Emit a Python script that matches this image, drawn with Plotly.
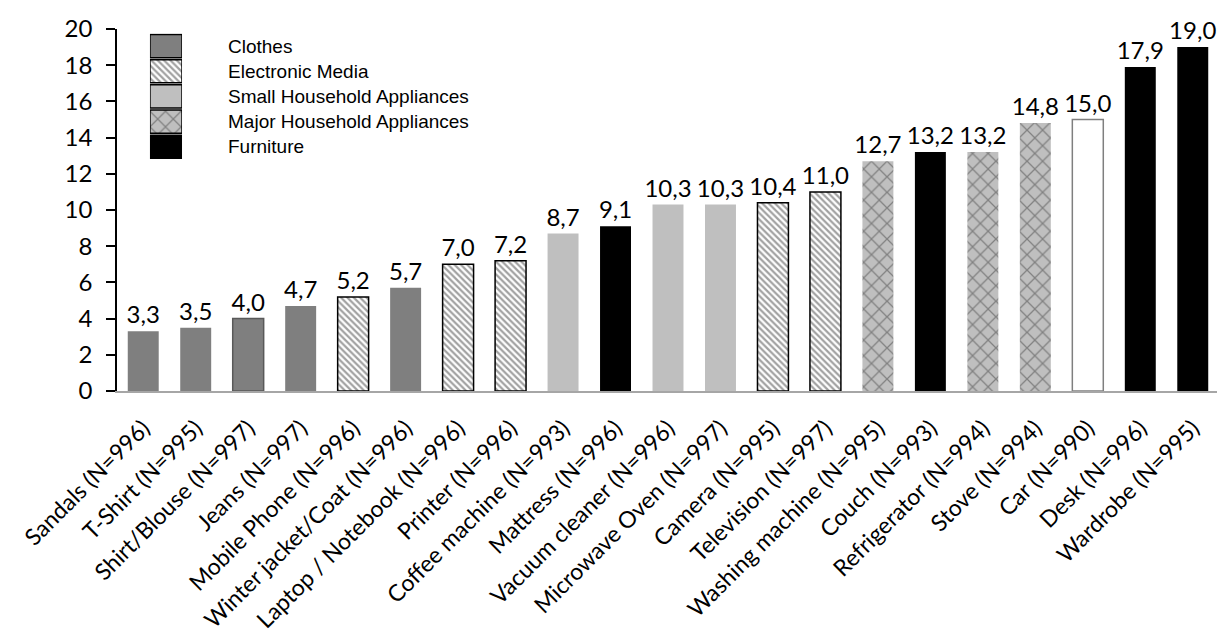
import plotly.graph_objects as go

items = ["Sandals (N=996)", "T-Shirt (N=995)", "Shirt/Blouse (N=997)", "Jeans (N=997)",
         "Mobile Phone (N=996)", "Winter jacket/Coat (N=996)", "Laptop / Notebook (N=996)",
         "Printer (N=996)", "Coffee machine (N=993)", "Mattress (N=996)",
         "Vacuum cleaner (N=996)", "Microwave Oven (N=997)", "Camera (N=995)",
         "Television (N=997)", "Washing machine (N=995)", "Couch (N=993)",
         "Refrigerator (N=994)", "Stove (N=994)", "Car (N=990)", "Desk (N=996)",
         "Wardrobe (N=995)"]
values = [3.3, 3.5, 4.0, 4.7, 5.2, 5.7, 7.0, 7.2, 8.7, 9.1, 10.3, 10.3, 10.4, 11.0,
          12.7, 13.2, 13.2, 14.8, 15.0, 17.9, 19.0]
groups = ["Clothes", "Clothes", "Clothes", "Clothes", "Electronic Media", "Clothes",
          "Electronic Media", "Electronic Media", "Small Household Appliances", "Furniture",
          "Small Household Appliances", "Small Household Appliances", "Electronic Media",
          "Electronic Media", "Major Household Appliances", "Furniture",
          "Major Household Appliances", "Major Household Appliances", "Other", "Furniture",
          "Furniture"]
legend_groups = ["Clothes", "Electronic Media", "Small Household Appliances",
                 "Major Household Appliances", "Furniture"]
y_ticks = [0, 2, 4, 6, 8, 10, 12, 14, 16, 18, 20]

style = {
    "Clothes": dict(color="#7f7f7f", shape="", fg="#000000", line="#7f7f7f", lw=0),
    "Electronic Media": dict(color="#ffffff", shape="\\", fg="#000000", line="#000000", lw=1.5),
    "Small Household Appliances": dict(color="#bfbfbf", shape="", fg="#000000", line="#bfbfbf", lw=0),
    "Major Household Appliances": dict(color="#bfbfbf", shape="x", fg="#1a1a1a", line="#bfbfbf", lw=0),
    "Furniture": dict(color="#000000", shape="", fg="#000000", line="#000000", lw=0),
    "Other": dict(color="#ffffff", shape="", fg="#000000", line="#7f7f7f", lw=1.5),
}

def col(g, k):
    return [style[x][k] for x in g]

def psize(g):
    return [11 if s == "x" else 4.5 for s in col(g, "shape")]

def psolid(g):
    return [0.22 if s == "x" else 0.5 for s in col(g, "shape")]

line_colors = col(groups, "line")
line_widths = col(groups, "lw")
for i, name in enumerate(items):
    if name.startswith("Shirt/Blouse"):
        line_colors[i] = "#595959"; line_widths[i] = 1.5

fig = go.Figure()
fig.add_trace(go.Bar(
    x=items, y=values,
    marker=dict(color=col(groups, "color"),
                line=dict(color=line_colors, width=line_widths),
                pattern=dict(shape=col(groups, "shape"), fgcolor=col(groups, "fg"),
                             bgcolor=col(groups, "color"),
                             size=psize(groups), solidity=psolid(groups))),
    texttemplate="%{y:.1f}", textposition="outside", constraintext="none",
    textfont=dict(family="Lato", size=24, color="#000000"),
    cliponaxis=False, showlegend=False, hoverinfo="x+y"))

# legend swatches drawn as an inset bar chart
fig.add_trace(go.Bar(
    y=legend_groups, x=[1] * len(legend_groups), orientation="h",
    xaxis="x2", yaxis="y2", showlegend=False, width=0.92,
    marker=dict(color=col(legend_groups, "color"),
                line=dict(color="#000000", width=1.5),
                pattern=dict(shape=col(legend_groups, "shape"), fgcolor=col(legend_groups, "fg"),
                             bgcolor=col(legend_groups, "color"),
                             size=psize(legend_groups), solidity=psolid(legend_groups))),
    hoverinfo="y"))

# the page body adds an 8px margin, so the figure is 8px smaller on each axis
fig.update_layout(
    width=1217, height=625,
    margin=dict(l=109, r=6, t=20.5, b=242),
    paper_bgcolor="white", plot_bgcolor="white",
    separators=",.",
    bargap=0.41,
    font=dict(family="Lato", color="#000000"),
    xaxis=dict(range=[-0.5, 20.5], tickangle=-45, showline=True, linecolor="#a6a6a6",
               linewidth=1.5, ticks="", showgrid=False, tickfont=dict(size=23, family="Lato"),
               ticklabelstandoff=13, automargin=False, fixedrange=True),
    yaxis=dict(range=[0, 20], tickvals=y_ticks, showline=True, linecolor="#000000",
               linewidth=1.5, ticks="outside", ticklen=9, tickcolor="#000000", tickwidth=1.5,
               showgrid=False, zeroline=False, ticklabelstandoff=9, automargin=False,
               tickfont=dict(size=24, family="Lato")),
    xaxis2=dict(domain=[0.0299, 0.059], anchor="y2", range=[0, 1], visible=False,
                fixedrange=True),
    yaxis2=dict(domain=[0.64, 0.9876], anchor="x2", side="right", autorange="reversed",
                showline=False, showgrid=False, zeroline=False, ticks="",
                ticklabelstandoff=45, automargin=False,
                tickfont=dict(family="Liberation Sans", size=19, color="#000000")),
)

fig.write_html("out.html")
